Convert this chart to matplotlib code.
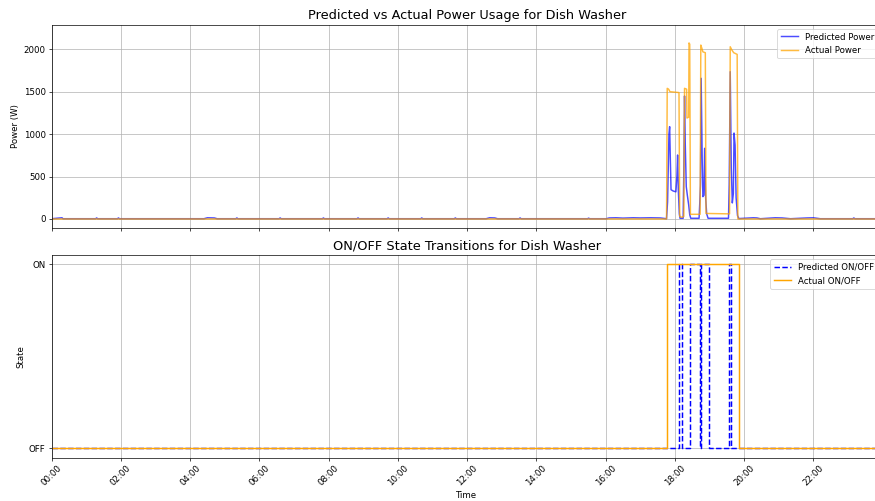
import matplotlib
matplotlib.use("Agg")
import matplotlib.pyplot as plt
import matplotlib.dates as mdates
import pandas as pd

BASE = pd.Timestamp("2014-01-01")

# ---- Power data (hours of day, watts) ----
pred_power_t = [0.00, 0.30, 0.33, 0.36, 1.27, 1.30, 1.33, 1.90, 1.93, 1.96, 4.40, 4.50, 4.70, 4.78,
                5.32, 5.35, 5.38, 6.57, 6.60, 6.63, 7.82, 7.85, 7.88, 8.82, 8.85, 8.88, 9.69, 9.72, 9.75,
                10.66, 10.69, 10.72, 11.63, 11.66, 11.69, 12.55, 12.65, 12.80, 12.88, 13.50, 13.53, 13.56,
                15.48, 15.51, 15.54, 16.02, 16.10, 16.30, 16.50, 16.80, 17.00, 17.30, 17.58, 17.76,
                17.79, 17.83, 17.85, 17.87, 17.89, 17.95, 18.03, 18.06, 18.08, 18.10, 18.13, 18.15,
                18.24, 18.26, 18.28, 18.30, 18.33, 18.36, 18.40, 18.43, 18.46, 18.70, 18.72, 18.74,
                18.76, 18.79, 18.81, 18.84, 18.86, 18.89, 18.92, 18.96, 19.55, 19.57, 19.60, 19.63,
                19.66, 19.69, 19.71, 19.74, 19.77, 19.81, 19.85, 20.27, 20.37, 20.47, 20.90, 21.10,
                21.34, 21.82, 22.00, 22.20, 23.14, 23.17, 23.20, 23.98]
pred_power_w = [3, 14, 3, 3, 3, 12, 3, 3, 12, 3, 3, 14, 12, 3,
                3, 12, 3, 3, 12, 3, 3, 12, 3, 3, 12, 3, 3, 12, 3,
                3, 12, 3, 3, 12, 3, 3, 14, 12, 3, 3, 12, 3,
                3, 10, 3, 3, 12, 14, 10, 14, 12, 14, 12, 3,
                200, 1000, 1088, 700, 345, 330, 320, 500, 754, 350, 60, 8,
                8, 600, 1450, 900, 381, 283, 165, 50, 8, 8, 189, 400,
                1658, 700, 263, 280, 833, 247, 60, 8, 8, 400, 1736, 600,
                189, 300, 1013, 872, 250, 40, 5, 14, 12, 3, 14, 12,
                3, 12, 14, 3, 3, 12, 3, 3]

act_power_t = [0.00, 17.76, 17.78, 17.82, 17.86, 18.12, 18.14, 18.20, 18.26, 18.28, 18.34, 18.35,
               18.40, 18.41, 18.43, 18.45, 18.73, 18.75, 18.79, 18.81, 18.88, 18.90, 19.58, 19.60,
               19.65, 19.70, 19.80, 19.82, 23.98]
act_power_w = [0, 0, 1540, 1530, 1500, 1490, 30, 20, 30, 1540, 1530, 1190,
               1200, 2075, 2060, 55, 55, 2050, 2000, 1970, 1960, 65, 60, 2030,
               1990, 1960, 1940, 0, 0]

# ---- ON/OFF state data (hours of day, 0=OFF 1=ON) ----
pred_state_t = [0.00, 18.12, 18.21, 18.44, 18.72, 18.76, 18.99, 19.56, 19.62, 23.98]
pred_state_v = [0, 1, 0, 1, 0, 1, 0, 1, 0, 0]
act_state_t = [0.00, 17.78, 19.85, 23.98]
act_state_v = [0, 1, 0, 0]


def to_time(hours):
    return [BASE + pd.Timedelta(hours=h) for h in hours]


fig = plt.figure(figsize=(14, 8.016), dpi=62.5)
ax1 = fig.add_axes([0.059, 0.545, 0.949, 0.4057])
ax2 = fig.add_axes([0.059, 0.0864, 0.949, 0.4046], sharex=ax1)

ax1.plot(to_time(pred_power_t), pred_power_w, color="blue", alpha=0.7, lw=1.7, label="Predicted Power")
ax1.plot(to_time(act_power_t), act_power_w, color="orange", alpha=0.75, lw=1.7, label="Actual Power")
ax1.set_title("Predicted vs Actual Power Usage for Dish Washer", fontsize=14.8)
ax1.set_ylabel("Power (W)")
ax1.set_ylim(-106, 2290)
ax1.legend(loc="upper right")
ax1.grid(True)
plt.setp(ax1.get_xticklabels(), visible=False)

ax2.step(to_time(pred_state_t), pred_state_v, where="post", color="blue", linestyle="--", lw=1.7,
         label="Predicted ON/OFF")
ax2.step(to_time(act_state_t), act_state_v, where="post", color="orange", lw=1.7,
         label="Actual ON/OFF")
ax2.set_title("ON/OFF State Transitions for Dish Washer", fontsize=14.8)
ax2.set_ylabel("State")
ax2.set_xlabel("Time")
ax2.set_yticks([0, 1])
ax2.set_yticklabels(["OFF", "ON"])
ax2.legend(loc="upper right")
ax2.grid(True)

ax2.xaxis.set_major_locator(mdates.HourLocator(interval=2))
ax2.xaxis.set_major_formatter(mdates.DateFormatter("%H:%M"))
ax2.set_xlim(BASE, BASE + pd.Timedelta(hours=23, minutes=59))
plt.setp(ax2.get_xticklabels(), rotation=45)

fig.savefig("out.png", dpi=62.5)
